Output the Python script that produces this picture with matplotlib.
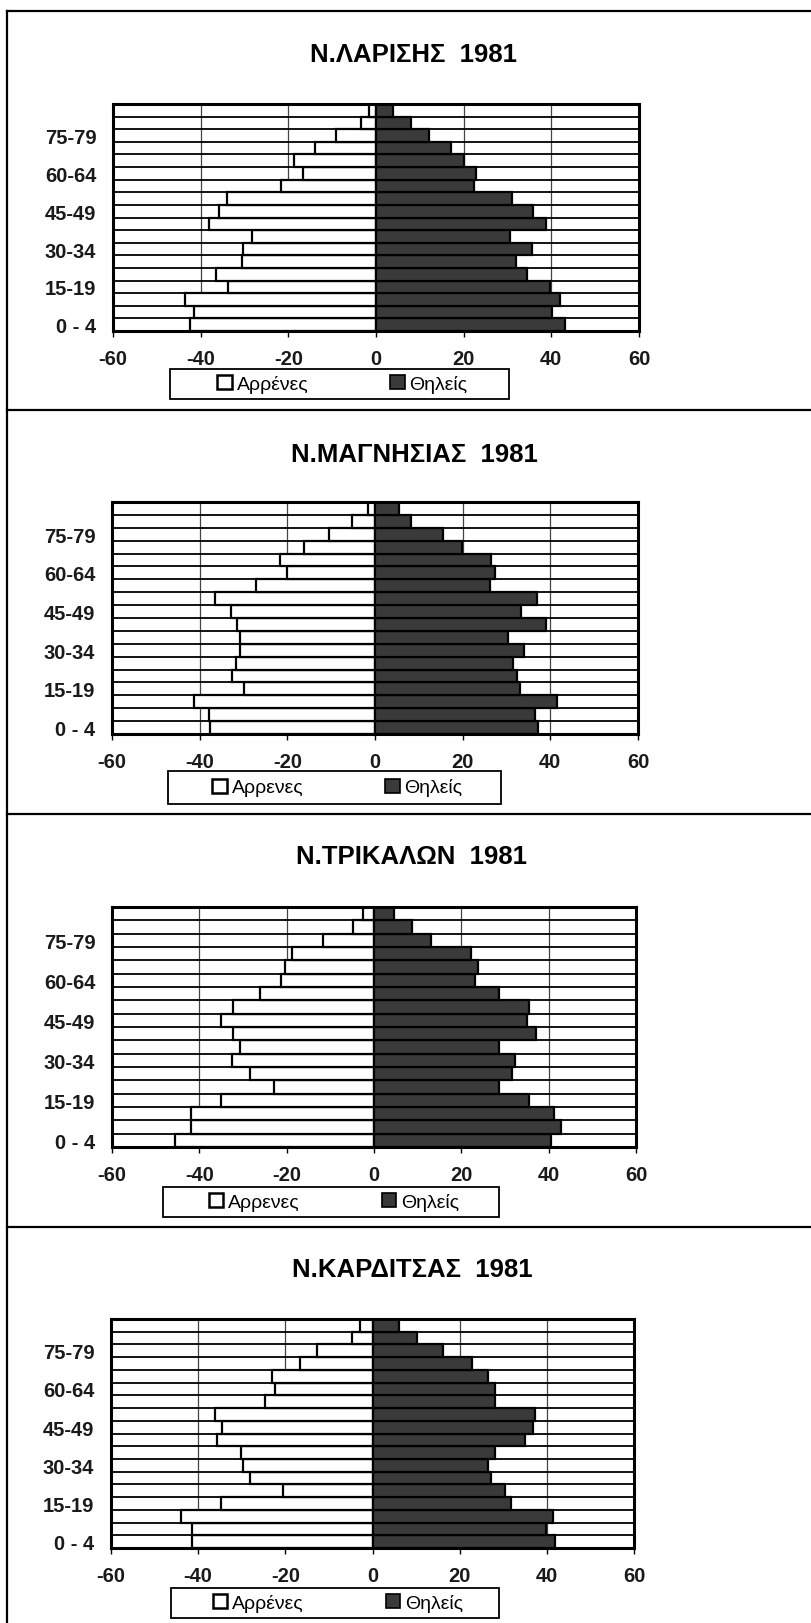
import matplotlib
matplotlib.use("Agg")
import matplotlib.pyplot as plt
from matplotlib.patches import Rectangle
from matplotlib.lines import Line2D
import numpy as np

plt.rcParams['font.family'] = ['Liberation Sans', 'DejaVu Sans']

# ---- data ----
age_groups = ['0 - 4', '5-9', '10-14', '15-19', '20-24', '25-29', '30-34', '35-39',
              '40-44', '45-49', '50-54', '55-59', '60-64', '65-69', '70-74',
              '75-79', '80-84', '85+']
shown_labels = ['0 - 4', '15-19', '30-34', '45-49', '60-64', '75-79']

titles = ['Ν.ΛΑΡΙΣΗΣ  1981', 'Ν.ΜΑΓΝΗΣΙΑΣ  1981', 'Ν.ΤΡΙΚΑΛΩΝ  1981', 'Ν.ΚΑΡΔΙΤΣΑΣ  1981']
male_labels = ['Αρρένες', 'Αρρενες', 'Αρρενες', 'Αρρένες']
female_label = 'Θηλείς'

# values listed from 0-4 up to 85+
larisa_m = [42.5, 41.6, 43.6, 33.8, 36.6, 30.5, 30.3, 28.4, 38.0, 35.8, 34.0, 21.6, 16.6, 18.6, 14.0, 9.2, 3.5, 1.7]
larisa_f = [43.2, 40.1, 41.9, 39.7, 34.5, 32.0, 35.5, 30.5, 38.8, 35.8, 31.0, 22.3, 22.7, 20.1, 17.0, 12.2, 7.9, 3.9]
magnisia_m = [37.7, 37.9, 41.2, 30.0, 32.7, 31.8, 30.9, 30.8, 31.4, 32.9, 36.4, 27.1, 20.1, 21.6, 16.3, 10.6, 5.2, 1.5]
magnisia_f = [37.2, 36.5, 41.5, 33.0, 32.5, 31.4, 33.9, 30.4, 38.9, 33.4, 36.9, 26.2, 27.3, 26.4, 19.9, 15.5, 8.1, 5.5]
trikala_m = [45.5, 41.9, 42.0, 35.0, 22.8, 28.3, 32.6, 30.6, 32.4, 35.0, 32.2, 26.1, 21.2, 20.3, 18.8, 11.6, 4.8, 2.6]
trikala_f = [40.5, 42.9, 41.2, 35.5, 28.7, 31.7, 32.2, 28.7, 37.2, 35.0, 35.5, 28.7, 23.2, 23.8, 22.3, 13.1, 8.8, 4.5]
karditsa_m = [41.4, 41.4, 44.0, 34.8, 20.6, 28.1, 29.8, 30.1, 35.7, 34.6, 36.1, 24.6, 22.4, 23.1, 16.7, 12.7, 4.8, 2.9]
karditsa_f = [41.8, 39.7, 41.4, 31.8, 30.4, 27.2, 26.6, 28.2, 35.1, 36.8, 37.3, 28.1, 28.1, 26.6, 22.8, 16.2, 10.3, 6.1]

males = [larisa_m, magnisia_m, trikala_m, karditsa_m]
females = [larisa_f, magnisia_f, trikala_f, karditsa_f]

x_ticks = [-60, -40, -20, 0, 20, 40, 60]

# ---- layout (pixels) ----
W, H = 811, 1624
fig = plt.figure(figsize=(W / 100, H / 100), dpi=100)
fig.patch.set_facecolor('white')

axes_px = [(113, 639, 105, 332), (112, 638, 503, 735), (112, 636, 908, 1148), (111, 634, 1320, 1549)]
legend_px = [(170, 509, 370, 400), (168, 501, 772, 805), (163, 499, 1188, 1218), (171, 499, 1589, 1619)]
title_px = [(414, 55), (414, 455), (412, 857), (412, 1270)]

def fx(x):
    return x / W

def fy(y):
    return 1 - y / H

female_color = '#3a3a3a'

for k in range(4):
    l, r, t, b = axes_px[k]
    ax = fig.add_axes([fx(l), fy(b), (r - l) / W, (b - t) / H])
    y = np.arange(len(age_groups))
    m = -np.array(males[k])
    f = np.array(females[k])
    ax.barh(y, m, height=1.0, color='white', edgecolor='black', linewidth=1.6, zorder=3)
    ax.barh(y, f, height=1.0, color=female_color, edgecolor='black', linewidth=1.6, zorder=3)
    ax.set_xlim(-60, 60)
    ax.set_ylim(-0.5, len(age_groups) - 0.5)
    # horizontal lines at category boundaries
    for yy in np.arange(len(age_groups) + 1) - 0.5:
        ax.axhline(yy, color='black', linewidth=1.3, zorder=2)
    for xx in [-40, -20, 20, 40]:
        ax.axvline(xx, color='#444444', linewidth=0.9, zorder=1)
    ax.set_xticks(x_ticks)
    ax.set_xticklabels([str(v) for v in x_ticks])
    ticks_y = [age_groups.index(s) for s in shown_labels]
    ax.set_yticks(ticks_y)
    ax.set_yticklabels(shown_labels)
    ax.tick_params(axis='x', length=4, width=1, direction='out', pad=9,
                   labelsize=14.5, colors='black')
    ax.tick_params(axis='y', length=0, pad=12, labelsize=14.5)
    for lab in ax.get_xticklabels() + ax.get_yticklabels():
        lab.set_fontweight('bold')
        lab.set_color('#1a1a1a')
    for s in ax.spines.values():
        s.set_linewidth(2.2)
        s.set_color('black')
        s.set_zorder(5)

    # title
    tx, ty = title_px[k]
    fig.text(fx(tx), fy(ty), titles[k], ha='center', va='center',
             fontsize=18.5, fontweight='bold', color='black')

    # legend box
    ll, lr, lt, lb = legend_px[k]
    fig.patches.append(Rectangle((fx(ll), fy(lb)), (lr - ll) / W, (lb - lt) / H,
                                 transform=fig.transFigure, facecolor='white',
                                 edgecolor='black', linewidth=1.3, zorder=10))
    handles = [Rectangle((0, 0), 1, 1, facecolor='white', edgecolor='black', linewidth=1.8),
               Rectangle((0, 0), 1, 1, facecolor=female_color, edgecolor='black', linewidth=1.2)]
    leg = fig.legend(handles, [male_labels[k], female_label], loc='center',
                     bbox_to_anchor=(fx((ll + lr) / 2 + 3), fy((lt + lb) / 2)),
                     ncol=2, frameon=False, fontsize=14, handlelength=0.75,
                     handleheight=0.75, handletextpad=0.25, columnspacing=4.2,
                     borderpad=0)
    leg.set_zorder(11)

# page frame lines
frame_h = [12, 411, 815, 1228]
for yy in frame_h:
    fig.add_artist(Line2D([fx(7), 1.0], [fy(yy), fy(yy)], transform=fig.transFigure,
                          color='black', linewidth=1.6))
fig.add_artist(Line2D([fx(7), fx(7)], [fy(12), 0.0], transform=fig.transFigure,
                      color='black', linewidth=1.6))

fig.savefig('out.png', dpi=100, facecolor='white')
